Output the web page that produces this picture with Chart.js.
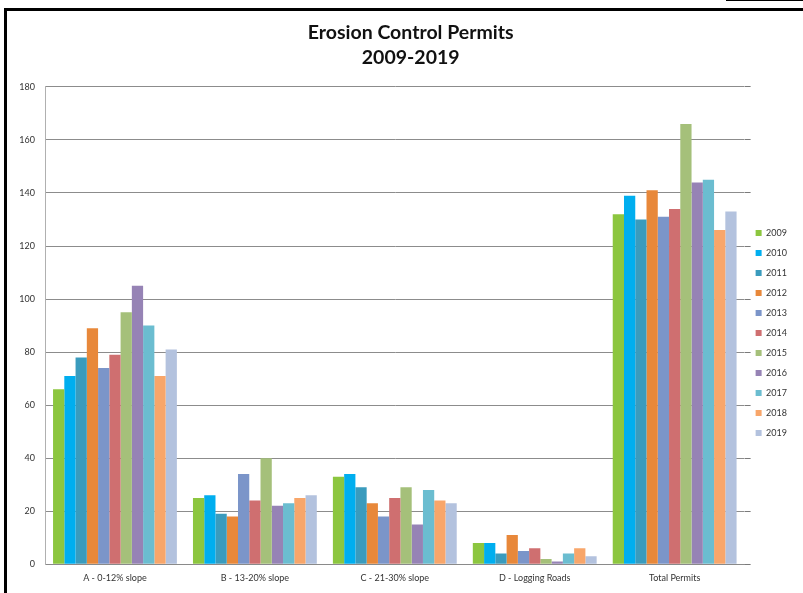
<!DOCTYPE html>
<html lang="en">
<head>
    <meta charset="UTF-8">
    <title>Erosion Control Permits 2009-2019</title>
    <script src="https://cdn.jsdelivr.net/npm/chart.js"></script>
    <style>
        body { margin: 0; background: #fff; }
        #wrap { position: relative; width: 803px; height: 593px; overflow: hidden; }
        #frame { position: absolute; left: 4px; top: 8px; width: 820px; height: 620px;
                 border: 3px solid #000; box-sizing: border-box; pointer-events: none; }
        #corner { position: absolute; left: 726px; top: 0; width: 100px; height: 1px; background: #000; }
    </style>
</head>
<body>
    <div id="wrap">
        <canvas id="myChart" width="803" height="593"></canvas>
        <div id="frame"></div>
        <div id="corner"></div>
    </div>
    <script>
        // categories and tick labels
        const categories = ['A - 0-12% slope', 'B - 13-20% slope', 'C - 21-30% slope', 'D - Logging Roads', 'Total Permits'];
        const years = ['2009', '2010', '2011', '2012', '2013', '2014', '2015', '2016', '2017', '2018', '2019'];
        const yTicks = [0, 20, 40, 60, 80, 100, 120, 140, 160, 180];

        // one array per year: A, B, C, D, Total
        const y2009 = [66, 25, 33, 8, 132];
        const y2010 = [71, 26, 34, 8, 139];
        const y2011 = [78, 19, 29, 4, 130];
        const y2012 = [89, 18, 23, 11, 141];
        const y2013 = [74, 34, 18, 5, 131];
        const y2014 = [79, 24, 25, 6, 134];
        const y2015 = [95, 40, 29, 2, 166];
        const y2016 = [105, 22, 15, 1, 144];
        const y2017 = [90, 23, 28, 4, 145];
        const y2018 = [71, 25, 24, 6, 126];
        const y2019 = [81, 26, 23, 3, 133];

        const series = [y2009, y2010, y2011, y2012, y2013, y2014, y2015, y2016, y2017, y2018, y2019];
        const colors = ['#8cc63f', '#00aeef', '#3a9bbd', '#e8883a', '#7b95c9', '#cf6f70',
                        '#a5c07a', '#9683b5', '#6bbdd0', '#f8a66a', '#b3c2de'];

        const datasets = series.map((data, i) => ({
            label: years[i],
            data: data,
            backgroundColor: colors[i],
            borderWidth: 0,
            categoryPercentage: 0.885,
            barPercentage: 1.0,
        }));

        const setTicks = scale => { scale.ticks = yTicks.map(v => ({ value: v })); };

        const ctx = document.getElementById('myChart').getContext('2d');
        new Chart(ctx, {
            type: 'bar',
            data: { labels: categories, datasets: datasets },
            options: {
                responsive: false,
                animation: false,
                layout: { padding: { left: 0, right: 6, top: 0, bottom: 2 } },
                plugins: {
                    title: {
                        display: true,
                        // leading spaces nudge the centred title to the right, as in the original
                        text: ['\u2003\u2002Erosion Control Permits', '\u2003\u20022009-2019'],
                        color: '#111',
                        font: { family: 'Lato', size: 19.5, weight: 'bold', lineHeight: 1.28 },
                        padding: { top: 20.5, bottom: 16.5 },
                    },
                    legend: {
                        position: 'right',
                        title: { display: true, text: ' ', font: { size: 1 }, padding: { top: 0, bottom: 74 } },
                        labels: {
                            boxWidth: 6,
                            boxHeight: 6,
                            padding: 11,
                            color: '#333',
                            font: { family: 'Lato', size: 9 },
                        },
                    },
                    tooltip: { enabled: false },
                },
                scales: {
                    x: {
                        grid: { display: false, drawTicks: false },
                        border: { color: '#8a8a8a' },
                        ticks: { color: '#333', padding: 8, font: { family: 'Lato', size: 9 } },
                    },
                    y: {
                        min: 0,
                        max: 180,
                        afterFit: scale => { scale.width = 45; },
                        afterBuildTicks: setTicks,
                        grid: { color: '#8c8c8c', drawTicks: false },
                        border: { color: '#b0b0b0' },
                        ticks: { color: '#333', padding: 10, font: { family: 'Lato', size: 9 } },
                    },
                    y2: {
                        position: 'right',
                        min: 0,
                        max: 180,
                        afterFit: scale => { scale.width = 0; },
                        afterBuildTicks: setTicks,
                        grid: { color: '#7a7a7a', drawOnChartArea: false, tickLength: 6 },
                        border: { display: false },
                        ticks: { display: false },
                    },
                },
            },
        });
    </script>
</body>
</html>
